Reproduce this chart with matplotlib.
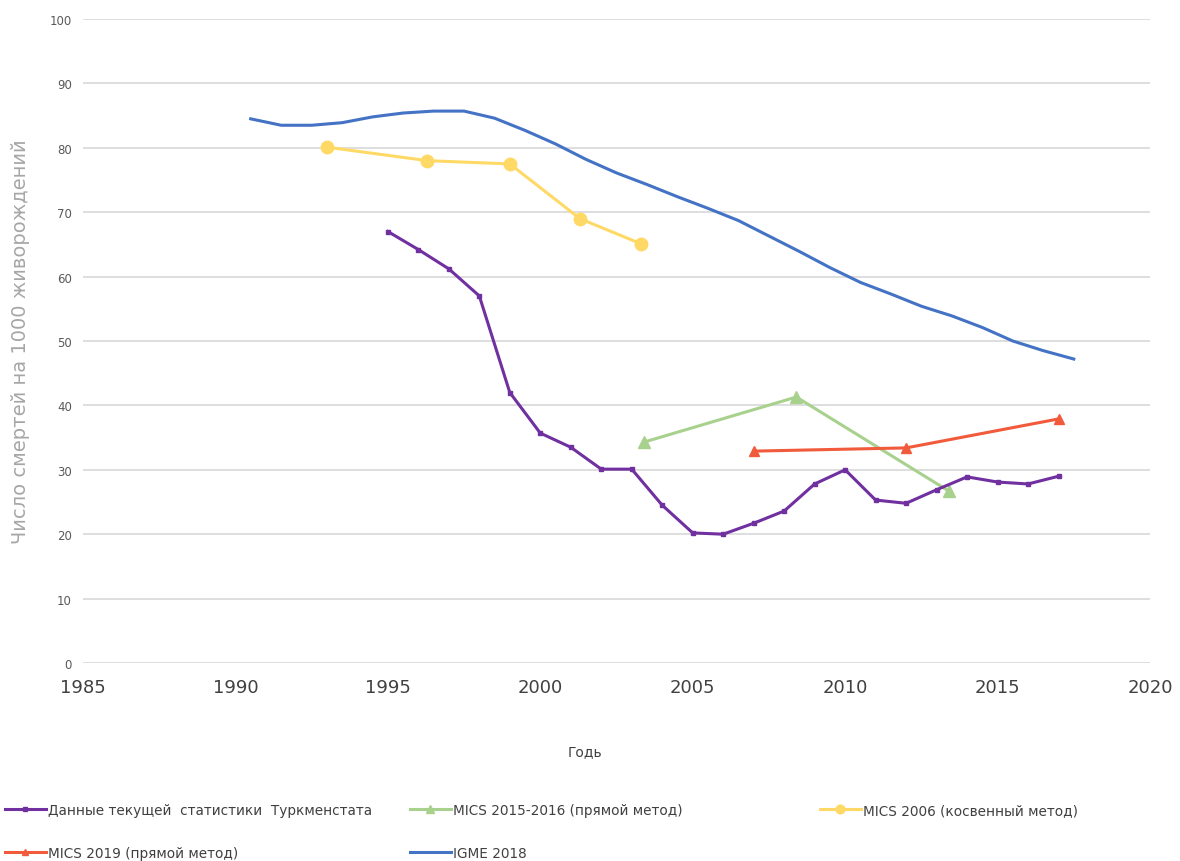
import matplotlib
matplotlib.use('Agg')
import matplotlib.pyplot as plt

plt.rcParams['font.family'] = ['DejaVu Sans']

# Данные текущей статистики Туркменстата
turk_years = [1995, 1996, 1997, 1998, 1999, 2000, 2001, 2002, 2003, 2004, 2005,
              2006, 2007, 2008, 2009, 2010, 2011, 2012, 2013, 2014, 2015, 2016, 2017]
turk_vals = [67.0, 64.2, 61.2, 57.0, 42.0, 35.7, 33.5, 30.1, 30.1, 24.5, 20.2,
             20.0, 21.7, 23.6, 27.8, 30.0, 25.3, 24.8, 26.9, 28.9, 28.1, 27.8, 29.0]

# MICS 2015-2016 (прямой метод)
mics16_years = [2003.4, 2008.4, 2013.4]
mics16_vals = [34.3, 41.3, 26.7]

# MICS 2006 (косвенный метод)
mics06_years = [1993.0, 1996.3, 1999.0, 2001.3, 2003.3]
mics06_vals = [80.1, 78.0, 77.5, 69.0, 65.1]

# MICS 2019 (прямой метод)
mics19_years = [2007.0, 2012.0, 2017.0]
mics19_vals = [32.9, 33.4, 37.9]

# IGME 2018
igme_years = [1990.5, 1991.5, 1992.5, 1993.5, 1994.5, 1995.5, 1996.5, 1997.5,
              1998.5, 1999.5, 2000.5, 2001.5, 2002.5, 2003.5, 2004.5, 2005.5,
              2006.5, 2007.5, 2008.5, 2009.5, 2010.5, 2011.5, 2012.5, 2013.5,
              2014.5, 2015.5, 2016.5, 2017.5]
igme_vals = [84.5, 83.5, 83.5, 83.9, 84.8, 85.4, 85.7, 85.7,
             84.6, 82.7, 80.6, 78.2, 76.1, 74.3, 72.4, 70.6,
             68.7, 66.3, 63.9, 61.4, 59.1, 57.3, 55.4, 53.9,
             52.1, 50.0, 48.5, 47.2]

fig = plt.figure(figsize=(11.8, 8.62), dpi=100)
ax = fig.add_axes([83/1180, 1 - 664/862, (1150 - 83)/1180, (664 - 20)/862])

l1, = ax.plot(turk_years, turk_vals, color='#7030A0', lw=2.2, marker='s', ms=3.5,
              label='Данные текущей  статистики  Туркменстата', zorder=5)
l2, = ax.plot(mics16_years, mics16_vals, color='#A9D18E', lw=2.2, marker='^', ms=9,
              label='MICS 2015-2016 (прямой метод)', zorder=4)
l3, = ax.plot(mics06_years, mics06_vals, color='#FFD966', lw=2.2, marker='o', ms=9,
              label='MICS 2006 (косвенный метод)', zorder=4)
l4, = ax.plot(mics19_years, mics19_vals, color='#F15A3B', lw=2.2, marker='^', ms=7,
              label='MICS 2019 (прямой метод)', zorder=4)
l5, = ax.plot(igme_years, igme_vals, color='#4472C4', lw=2.2,
              label='IGME 2018', zorder=3)

ax.set_xlim(1985, 2020)
ax.set_ylim(0, 100)
ax.set_xticks(range(1985, 2021, 5))
ax.set_yticks(range(0, 101, 10))
ax.grid(axis='y', color='#D4D4D4', lw=1.1)
ax.set_axisbelow(True)
for s in ax.spines.values():
    s.set_visible(False)
ax.tick_params(axis='x', length=0, pad=11, labelsize=13, labelcolor='#404040')
ax.tick_params(axis='y', length=0, pad=8, labelsize=8.5, labelcolor='#595959')

ax.set_ylabel('Число смертей на 1000 живорождений', fontsize=14, color='#A6A6A6',
              labelpad=14)
fig.text(585/1180, 1 - 752/862, 'Годь', ha='center', va='center',
         fontsize=10, color='#404040')

# легенда: три колонки
leg_kw = dict(loc='upper left', frameon=False, fontsize=9.8, handlelength=3.0,
              handletextpad=0.15, borderpad=0, borderaxespad=0, labelspacing=2.1,
              labelcolor='#404040', markerscale=0.7)
fig.legend(handles=[l1, l4], bbox_to_anchor=(5/1180, 1 - 804/862), **leg_kw)
fig.legend(handles=[l2, l5], bbox_to_anchor=(410/1180, 1 - 804/862), **leg_kw)
fig.legend(handles=[l3], bbox_to_anchor=(820/1180, 1 - 804/862), **leg_kw)

fig.savefig('out.png', dpi=100)
